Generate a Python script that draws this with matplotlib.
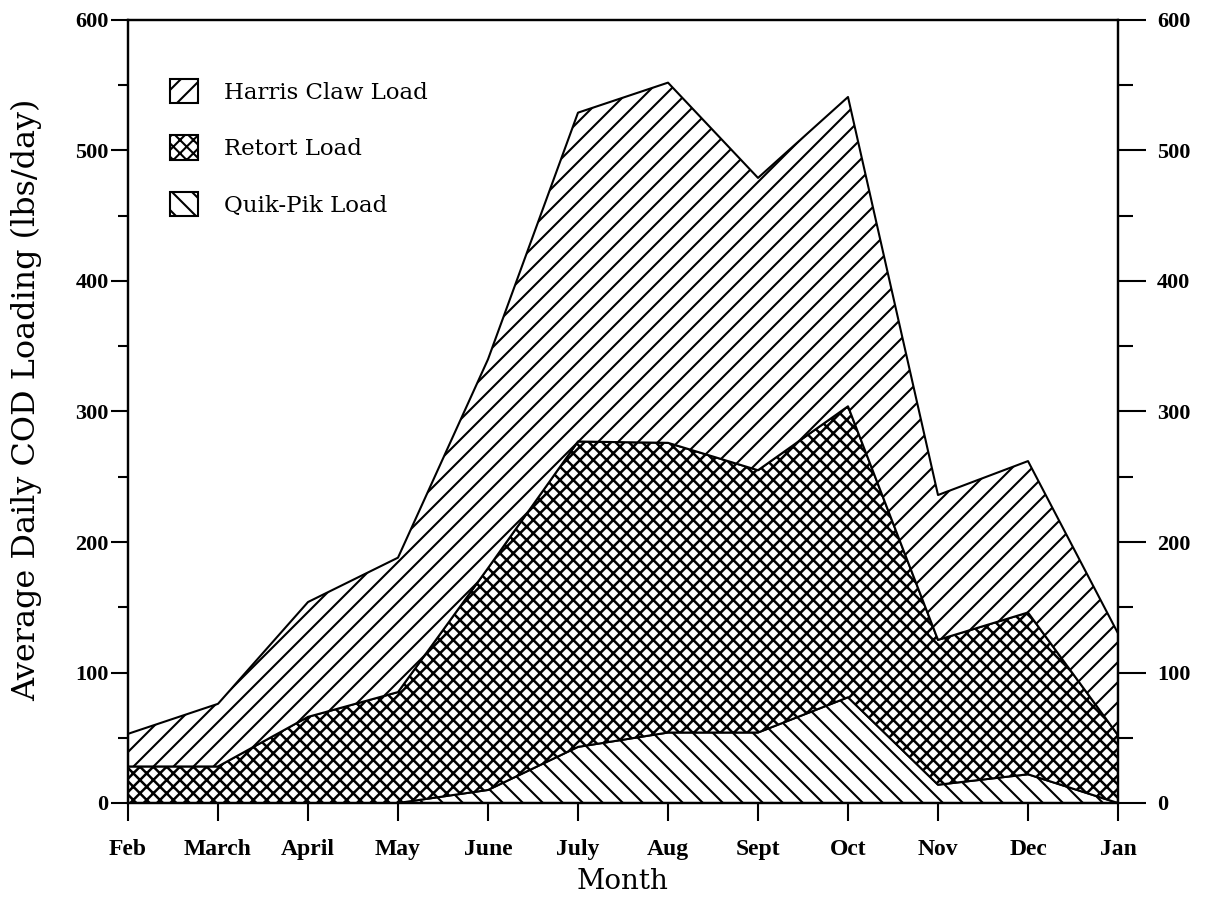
import numpy as np
import matplotlib
matplotlib.use("Agg")
import matplotlib.pyplot as plt
from matplotlib.patches import Patch
from matplotlib.ticker import MultipleLocator

months = ["Feb", "March", "April", "May", "June", "July",
          "Aug", "Sept", "Oct", "Nov", "Dec", "Jan"]

# individual loads (lbs/day), stacked bottom to top
quik_pik = [0, 0, 0, 0, 10, 43, 54, 54, 81, 14, 22, 0]
retort = [28, 28, 66, 85, 170, 234, 222, 201, 223, 111, 124, 52]
harris_claw = [25, 48, 88, 103, 160, 252, 276, 224, 237, 111, 116, 78]

x = np.arange(len(months))
level1 = np.array(quik_pik)
level2 = level1 + np.array(retort)
level3 = level2 + np.array(harris_claw)

# dpi 120 so the hatch spacing comes out close to the scanned original
DPI = 120
S = 100 / DPI  # sizes below were tuned at dpi 100

plt.rcParams["hatch.linewidth"] = 1.5 * S

fig = plt.figure(figsize=(1216 / DPI, 899 / DPI), dpi=DPI)
ax = fig.add_axes([128 / 1216, 1 - 803 / 899, 990 / 1216, 783 / 899])

ax.fill_between(x, 0, level1, facecolor="white", edgecolor="black",
                hatch="\\\\", linewidth=1.5 * S)
with plt.rc_context({"hatch.linewidth": 1.8 * S}):
    ax.fill_between(x, level1, level2, facecolor="white", edgecolor="black",
                    hatch="xxx", linewidth=1.5 * S)
ax.fill_between(x, level2, level3, facecolor="white", edgecolor="black",
                hatch="//", linewidth=1.5 * S)

ax.set_xlim(0, 11)
ax.set_ylim(0, 600)
ax.set_xticks(x)
ax.set_xticklabels(months)
ax.yaxis.set_major_locator(MultipleLocator(100))
ax.yaxis.set_minor_locator(MultipleLocator(50))

for s in ax.spines.values():
    s.set_linewidth(1.6 * S)

xtick_font = {"family": "Liberation Serif", "weight": "bold", "size": 17 * S}
ytick_font = {"family": "Liberation Serif", "weight": "bold", "size": 16 * S}
ax.tick_params(axis="x", direction="out", length=13 * S, width=1.5 * S, pad=13 * S)
ax.tick_params(axis="y", which="major", direction="out", length=12 * S,
               width=1.5 * S, pad=2 * S)
ax.tick_params(axis="y", which="minor", direction="out", length=7 * S, width=1.5 * S)
for lab in ax.get_xticklabels():
    lab.set_fontproperties(xtick_font)
for lab in ax.get_yticklabels():
    lab.set_fontproperties(ytick_font)

ax2 = ax.twinx()
ax2.set_ylim(0, 600)
ax2.yaxis.set_major_locator(MultipleLocator(100))
ax2.yaxis.set_minor_locator(MultipleLocator(50))
ax2.tick_params(axis="y", which="major", direction="out", length=20 * S,
                width=1.5 * S, pad=8 * S)
ax2.tick_params(axis="y", which="minor", direction="out", length=11 * S, width=1.5 * S)
for lab in ax2.get_yticklabels():
    lab.set_fontproperties(ytick_font)
for s in ax2.spines.values():
    s.set_linewidth(1.6 * S)

ax.set_ylabel("Average Daily COD Loading (lbs/day)", family="DejaVu Serif",
              fontsize=23 * S)
ax.yaxis.set_label_coords(-0.087, 0.515)
ax.set_xlabel("Month", family="DejaVu Serif", fontsize=20 * S, labelpad=6 * S)

handles = [
    Patch(facecolor="white", edgecolor="black", hatch="//", linewidth=1.5 * S),
    Patch(facecolor="white", edgecolor="black", hatch="xxx", linewidth=1.5 * S),
    Patch(facecolor="white", edgecolor="black", hatch="\\\\", linewidth=1.5 * S),
]
ax.legend(handles, ["Harris Claw Load", "Retort Load", "Quik-Pik Load"],
          loc="upper left", bbox_to_anchor=(0.042, 0.925), frameon=False,
          borderpad=0, borderaxespad=0, handlelength=1.26, handleheight=1.26,
          labelspacing=1.38, handletextpad=1.1,
          prop={"family": "DejaVu Serif", "size": 16.5 * S})

fig.savefig("out.png", dpi=DPI)
